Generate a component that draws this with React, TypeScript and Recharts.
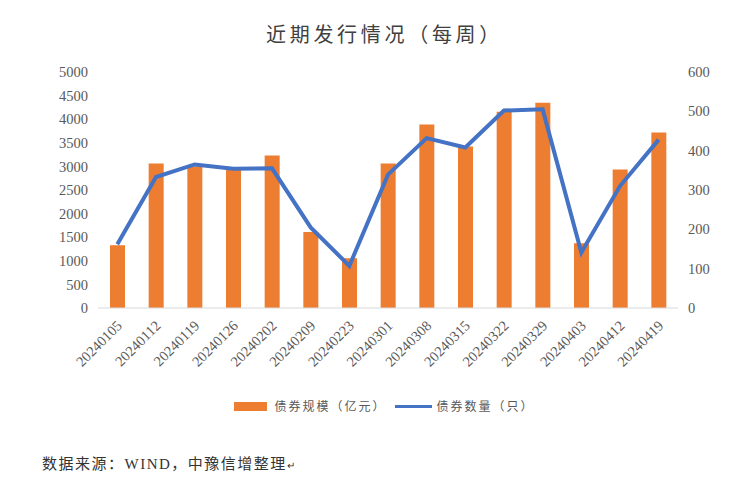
import React from "react";
import { ComposedChart, Bar, Line, XAxis, YAxis, Legend } from "recharts";

const weeks = [
  "20240105", "20240112", "20240119", "20240126", "20240202",
  "20240209", "20240223", "20240301", "20240308", "20240315",
  "20240322", "20240329", "20240403", "20240412", "20240419",
];
const scale = [1330, 3060, 3000, 2950, 3230, 1610, 1055, 3060, 3890, 3420, 4156, 4346, 1371, 2932, 3719];
const count = [162, 333, 365, 354, 355, 205, 107, 339, 432, 408, 502, 505, 141, 310, 428];

const leftTicks = [0, 500, 1000, 1500, 2000, 2500, 3000, 3500, 4000, 4500, 5000];
const rightTicks = [0, 100, 200, 300, 400, 500, 600];

const data = weeks.map((w, i) => ({ week: w, scale: scale[i], count: count[i] }));

const FONT = "'Liberation Serif', 'Noto Sans CJK SC', serif";
const GRAY = "#595959";

const WeekTick = (props: any) => {
  const { x, y, payload } = props;
  return (
    <g transform={`translate(${x + 2},${y + 7})`}>
      <text transform="rotate(-45)" textAnchor="end" dy="0.35em" fill={GRAY} fontSize={14.5} fontFamily={FONT}>
        {payload.value}
      </text>
    </g>
  );
};

const LegendBox = () => (
  <div style={{ display: "flex", alignItems: "center", justifyContent: "center", paddingLeft: 28, fontSize: 12, letterSpacing: 2, color: GRAY, fontFamily: FONT }}>
    <span style={{ display: "inline-block", width: 33, height: 9, background: "#ED7D31", marginRight: 7 }} />
    <span>债券规模（亿元）</span>
    <span style={{ display: "inline-block", width: 37, height: 3, background: "#4472C4", marginLeft: 8, marginRight: 5 }} />
    <span>债券数量（只）</span>
  </div>
);

export default function App() {
  return (
    <div style={{ position: "absolute", left: 0, top: 0, width: 741, height: 482, background: "#fff" }}>
      <div style={{ position: "absolute", top: 19, left: 14, width: 741, textAlign: "center", fontSize: 20, letterSpacing: 3.7, color: "#404040", fontFamily: FONT }}>
        近期发行情况（每周）
      </div>
      <ComposedChart width={741} height={482} data={data} margin={{ top: 72, right: 0, left: 0, bottom: 76 }}>
        <XAxis
          dataKey="week"
          height={80}
          interval={0}
          tickLine={false}
          axisLine={{ stroke: "#D9D9D9" }}
          tick={<WeekTick />}
        />
        <YAxis
          yAxisId="left"
          width={98}
          domain={[0, 5000]}
          ticks={leftTicks}
          interval={0}
          tickLine={false}
          axisLine={false}
          tick={{ fill: GRAY, fontSize: 14.5, fontFamily: FONT }}
          tickMargin={4}
        />
        <YAxis
          yAxisId="right"
          orientation="right"
          width={63}
          domain={[0, 600]}
          ticks={rightTicks}
          interval={0}
          tickLine={false}
          axisLine={false}
          tick={{ fill: GRAY, fontSize: 14.5, fontFamily: FONT }}
          tickMargin={4}
        />
        <Bar yAxisId="left" dataKey="scale" fill="#ED7D31" barSize={15} isAnimationActive={false} />
        <Line yAxisId="right" dataKey="count" stroke="#4472C4" strokeWidth={4} dot={false} isAnimationActive={false} />
        <Legend content={<LegendBox />} wrapperStyle={{ top: 397, left: 0, width: 741 }} />
      </ComposedChart>
      <div style={{ position: "absolute", top: 452, left: 42, fontSize: 15, color: "#333", fontFamily: FONT, letterSpacing: 1.5 }}>
        数据来源：WIND，中豫信增整理<span style={{ fontSize: 10 }}>↵</span>
      </div>
    </div>
  );
}
